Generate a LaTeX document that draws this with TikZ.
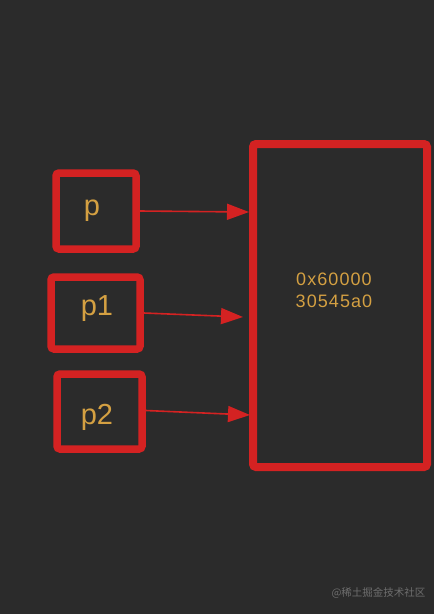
\documentclass[tikz,border=0pt]{standalone}
\usepackage{fontspec}
\setmainfont{Liberation Sans}
\newfontfamily\cjk{Noto Sans CJK SC}
\newfontfamily\memfont[LetterSpace=6]{Liberation Sans}
\usetikzlibrary{arrows.meta}
\definecolor{bg}{HTML}{2B2B2B}
\definecolor{redline}{HTML}{D42222}
\definecolor{gold}{HTML}{D4A042}
\definecolor{wm}{HTML}{6E6E6E}
\tikzset{
  ptrbox/.style={draw=redline, line width=7.5pt, rounded corners=3pt, inner sep=0pt},
  membox/.style={draw=redline, line width=8pt, rounded corners=3pt, inner sep=0pt},
  lbl/.style={text=gold, font=\fontsize{29}{32}\selectfont, anchor=base, inner sep=0pt},
  memlbl/.style={text=gold, font=\memfont\fontsize{18}{22}\selectfont, anchor=base, inner sep=0pt},
  arr/.style={draw=redline, line width=1.6pt, -{Triangle[length=22pt,width=16pt]}}
}
\begin{document}
\begin{tikzpicture}[x=1pt,y=-1pt]
\fill[bg] (0,0) rectangle (434,614);
\useasboundingbox (0,0) rectangle (434,614);
\node[ptrbox, minimum width=80pt, minimum height=76pt] (p) at (96,211) {};
\node[lbl] (pl) at (92,215) {p};
\node[ptrbox, minimum width=89pt, minimum height=72pt] (p1) at (95.5,313) {};
\node[lbl] (p1l) at (97,315) {p1};
\node[ptrbox, minimum width=85pt, minimum height=75pt] (p2) at (99.5,411.5) {};
\node[lbl] (p2l) at (97,424) {p2};
\node[membox, minimum width=174pt, minimum height=323pt] (m) at (340,305.5) {};
\node[memlbl] (ml1) at (334,285) {0x60000};
\node[memlbl] (ml2) at (334,307) {30545a0};
\coordinate (t0) at (249,212);
\coordinate (t1) at (243,317);
\coordinate (t2) at (250,415);
\draw[arr] (p.east) -- (t0);
\draw[arr] (p1.east) -- (t1);
\draw[arr] ([yshift=1pt]p2.east) -- (t2);
\node[anchor=east, text=wm, font=\cjk\fontsize{10.5}{12}\selectfont] (w) at (429,593) {@稀土掘金技术社区};
\end{tikzpicture}
\end{document}
